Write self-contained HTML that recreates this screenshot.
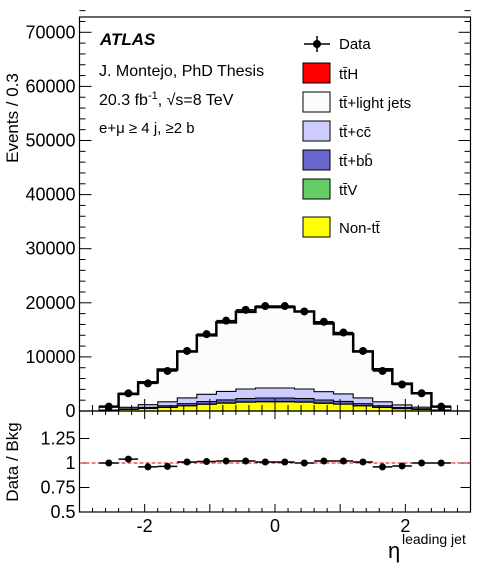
<!DOCTYPE html>
<html><head><meta charset="utf-8"><style>
html,body{margin:0;padding:0;background:#fff;}
svg{display:block;font-family:"Liberation Sans",sans-serif;}
</style></head><body>
<svg id="c" width="496" height="572" viewBox="0 0 496 572" xmlns="http://www.w3.org/2000/svg"></svg>
<script>
const binEdges=[-2.7,-2.4,-2.1,-1.8,-1.5,-1.2,-0.9,-0.6,-0.3,0,0.3,0.6,0.9,1.2,1.5,1.8,2.1,2.4,2.7];
const dataVals=[800,3270,5100,7400,11100,14200,16700,18700,19400,19400,18400,16500,14500,11100,7400,4900,3270,800];
const ratioVals=[1.0,1.04,0.96,0.965,1.01,1.015,1.02,1.02,1.01,1.01,1.0,1.02,1.02,1.01,0.96,0.97,1.0,1.0];
const nonTT=[70,280,470,680,970,1240,1450,1630,1700,1700,1630,1430,1260,970,680,450,290,70];
const ttV=[3,10,17,24,34,44,51,57,60,60,57,51,44,34,24,16,10,3];
const ttbb=[27,107,180,260,370,470,555,620,650,650,620,550,480,370,260,170,110,27];
const ttcc=[78,300,510,740,1060,1350,1580,1770,1850,1850,1770,1560,1370,1060,740,490,315,78];
const ttH=[1,5,8,12,17,22,26,29,30,30,29,26,22,17,12,8,5,1];
const yTicks=[0,10000,20000,30000,40000,50000,60000,70000];
const rTicks=[0.5,0.75,1,1.25];
const xTicks=[-2,0,2];
const NS="http://www.w3.org/2000/svg";
const svg=document.getElementById('c');
const X0=79.5,X1=470.5,MT=17,MB=411,RB=512;
const sx=v=>X0+(v+3)/6*(X1-X0);
const sy=v=>MB-v/10000*54.1;
const sr=v=>RB-(v-0.5)/0.25*24.5;
function el(t,a,p){const e=document.createElementNS(NS,t);for(const k in a)e.setAttribute(k,a[k]);(p||svg).appendChild(e);return e;}
const mc=dataVals.map((d,i)=>d/ratioVals[i]);
const light=mc.map((t,i)=>t-nonTT[i]-ttV[i]-ttbb[i]-ttcc[i]-ttH[i]);
const layers=[[nonTT,'#ffff00','non-tt-stack'],[ttV,'#66cc66','ttv-stack'],[ttbb,'#6666cc','ttbb-stack'],[ttcc,'#ccccff','ttcc-stack'],[light,'#fcfcfc','ttlight-stack'],[ttH,'#ff0000','tth-stack']];
const cum=new Array(18).fill(0);
const gs=el('g',{});


layers.forEach(([arr,col,nm])=>{
  let top=[],bot=[];
  for(let i=0;i<18;i++){bot.push(cum[i]);cum[i]+=arr[i];top.push(cum[i]);}
  let d='';
  for(let i=0;i<18;i++){d+=(i?'L':'M')+sx(binEdges[i])+','+sy(top[i])+'L'+sx(binEdges[i+1])+','+sy(top[i]);}
  for(let i=17;i>=0;i--){d+='L'+sx(binEdges[i+1])+','+sy(bot[i])+'L'+sx(binEdges[i])+','+sy(bot[i]);}
  const p=el('path',{d:d+'Z',fill:col,stroke:'#000','stroke-width':1},gs);
  
  
});
let od='';
for(let i=0;i<18;i++){od+=(i?'L':'M')+sx(binEdges[i])+','+sy(mc[i])+'L'+sx(binEdges[i+1])+','+sy(mc[i]);}
const ol=el('path',{d:od,fill:'none',stroke:'#000','stroke-width':2.5});


for(let i=0;i<18;i++){
  const cx=(sx(binEdges[i])+sx(binEdges[i+1]))/2,cy=sy(dataVals[i]);
  const c=el('circle',{cx:cx,cy:cy,r:4,fill:'#000'});
  
  
  el('line',{x1:sx(binEdges[i]),x2:sx(binEdges[i+1]),y1:cy,y2:cy,stroke:'#000','stroke-width':1.5});
}
el('rect',{x:X0,y:MT,width:X1-X0,height:MB-MT,fill:'none',stroke:'#000','stroke-width':1.2});
el('rect',{x:X0,y:MB,width:X1-X0,height:RB-MB,fill:'none',stroke:'#000','stroke-width':1.2});
yTicks.forEach(v=>{
  el('line',{x1:X0,x2:X0+12,y1:sy(v),y2:sy(v),stroke:'#000'});
  el('line',{x1:X1,x2:X1-12,y1:sy(v),y2:sy(v),stroke:'#000'});
  const t=el('text',{x:X0-4,y:sy(v)+6,'text-anchor':'end','font-size':18});t.textContent=v;
  
});
for(let v=2000;v<76000;v+=2000){if(v%10000){el('line',{x1:X0,x2:X0+6,y1:sy(v),y2:sy(v),stroke:'#000'});el('line',{x1:X1,x2:X1-6,y1:sy(v),y2:sy(v),stroke:'#000'});}}
for(let v=-2.8;v<=2.81;v+=0.2){const m=Math.abs(Math.round(v)-v)<0.01;const L=m?12:6;
  el('line',{x1:sx(v),x2:sx(v),y1:MB,y2:MB-L,stroke:'#000'});
  el('line',{x1:sx(v),x2:sx(v),y1:RB,y2:RB-(m?8:4),stroke:'#000'});
  el('line',{x1:sx(v),x2:sx(v),y1:MB,y2:MB+(m?8:4),stroke:'#000'});}
xTicks.forEach(v=>{const t=el('text',{x:sx(v),y:532,'text-anchor':'middle','font-size':18});t.textContent=v<0?'-'+(-v):v;
  });
rTicks.forEach(v=>{el('line',{x1:X0,x2:X0+10,y1:sr(v),y2:sr(v),stroke:'#000'});el('line',{x1:X1,x2:X1-10,y1:sr(v),y2:sr(v),stroke:'#000'});
  const t=el('text',{x:X0-4,y:sr(v)+6,'text-anchor':'end','font-size':18});t.textContent=v;
  });
el('line',{x1:X0,x2:X1,y1:sr(1),y2:sr(1),stroke:'#e00','stroke-dasharray':'4,2'});
for(let i=0;i<18;i++){
  const cx=(sx(binEdges[i])+sx(binEdges[i+1]))/2,cy=sr(ratioVals[i]);
  el('line',{x1:sx(binEdges[i]),x2:sx(binEdges[i+1]),y1:cy,y2:cy,stroke:'#000','stroke-width':1.5});
  const c=el('circle',{cx:cx,cy:cy,r:3.5,fill:'#000'});
  
}
</script>
<div style="position:absolute;left:0;top:0;width:496px;height:572px;pointer-events:none">
<svg width="496" height="572" style="font-family:'Liberation Sans',sans-serif">
<text x="100" y="45" font-size="17" font-weight="bold" font-style="italic">ATLAS</text>
<text x="99" y="76" font-size="16">J. Montejo, PhD Thesis</text>
<text x="99" y="105" font-size="16">20.3 fb<tspan dy="-6" font-size="11">-1</tspan><tspan dy="6">, √s=8 TeV</tspan></text>
<text x="99" y="133" font-size="15">e+μ ≥ 4 j, ≥2 b</text>
<g font-size="15">
<line x1="304" x2="330" y1="44" y2="44" stroke="#000" stroke-width="1.5"/><line x1="317" x2="317" y1="36" y2="52" stroke="#000" stroke-width="1.5"/><circle cx="317" cy="44" r="4"/>
<text x="339" y="49">Data</text>
<rect x="303" y="63" width="27" height="20" fill="#ff0000" stroke="#000"/><text x="339" y="79">tt̄H</text>
<rect x="303" y="92" width="27" height="20" fill="#fcfcfc" stroke="#000"/><text x="339" y="108">tt̄+light jets</text>
<rect x="303" y="121" width="27" height="20" fill="#ccccff" stroke="#000"/><text x="339" y="137">tt̄+cc̄</text>
<rect x="303" y="150" width="27" height="20" fill="#6666cc" stroke="#000"/><text x="339" y="166">tt̄+bb̄</text>
<rect x="303" y="179" width="27" height="20" fill="#66cc66" stroke="#000"/><text x="339" y="195">tt̄V</text>
<rect x="303" y="217" width="27" height="20" fill="#ffff00" stroke="#000"/><text x="339" y="233">Non-tt̄</text>
</g>
<text transform="translate(18,118) rotate(-90)" font-size="17" text-anchor="middle">Events / 0.3</text>
<text transform="translate(18,462) rotate(-90)" font-size="17" text-anchor="middle">Data / Bkg</text>
<text x="388" y="558" font-size="22">η</text>
<text x="402" y="544" font-size="14">leading jet</text>
</svg></div>
</body></html>
